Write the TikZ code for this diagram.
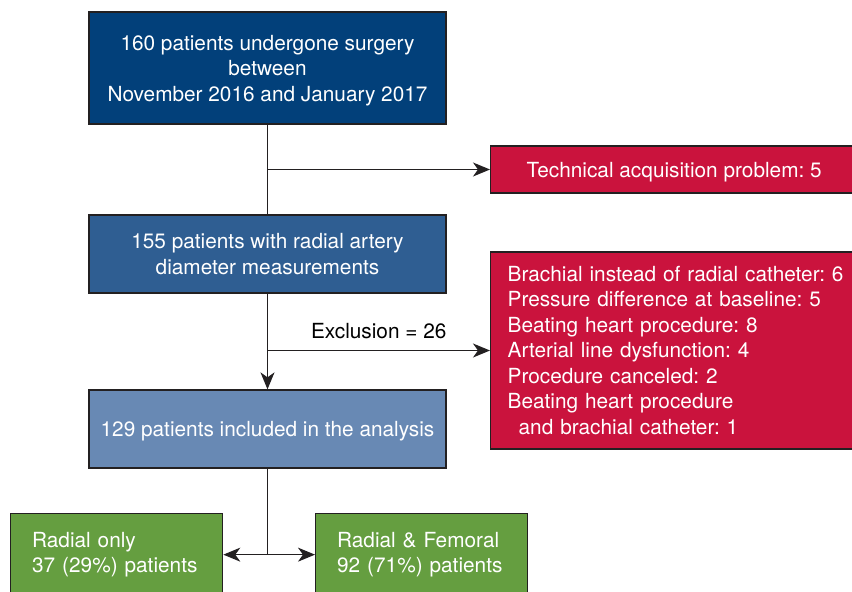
\documentclass[tikz,border=0pt]{standalone}
\usepackage{fontspec}
\setmainfont{TeX Gyre Heros}
\usetikzlibrary{arrows.meta}

\definecolor{topblue}{RGB}{2,64,122}
\definecolor{midblue}{RGB}{47,94,146}
\definecolor{lightblue}{RGB}{104,137,180}
\definecolor{exclred}{RGB}{202,19,61}
\definecolor{groupgreen}{RGB}{101,158,64}
\definecolor{linegray}{RGB}{35,32,33}

\begin{document}
\frenchspacing
\hyphenpenalty=10000
\begin{tikzpicture}[x=1pt, y=-1pt, >={Stealth[length=17pt,width=14pt,inset=5pt]},
  font=\fontsize{20.8}{25.5}\selectfont,
  box/.style={draw=linegray, line width=1.3pt, text=white, inner sep=0pt},
  flowbox/.style={box, minimum width=357pt, align=center},
  exclbox/.style={box, fill=exclred, anchor=west},
  groupbox/.style={box, fill=groupgreen, anchor=north west, minimum width=212pt,
    minimum height=82pt, text width=169pt, inner xsep=21.5pt, align=left},
  link/.style={draw=linegray, line width=1.3pt}]

\useasboundingbox (0,0) rectangle (852,592);

% ---------- Main flow ----------
\node[flowbox, fill=topblue, minimum height=112pt, text depth=0pt] (surgery) at (267.5,68)
  {160 patients undergone surgery\\between\\November 2016 and January 2017};
\node[flowbox, fill=midblue, minimum height=78pt] (measured) at (267.5,254)
  {155 patients with radial artery\\diameter measurements};
\node[flowbox, fill=lightblue, minimum height=78pt, text depth=0pt] (included) at (267.5,429)
  {129 patients included in the analysis};

% ---------- Exclusions ----------
\node[exclbox, minimum width=367pt, minimum height=47pt, text depth=0pt] (technical) at (490,169.5)
  {Technical acquisition problem: 5};
\node[exclbox, minimum height=197pt, text width=345pt, inner xsep=17pt, align=left]
  (excluded) at (490,350.5)
  {Brachial instead of radial catheter: 6\\
   Pressure difference at baseline: 5\\
   Beating heart procedure: 8\\
   Arterial line dysfunction: 4\\
   Procedure canceled: 2\\
   Beating heart procedure\\
   \hspace*{11pt}and brachial catheter: 1};

% ---------- Groups ----------
\node[groupbox] (radial) at (10,513) {Radial only\\37 (29\%) patients};
\node[groupbox] (femoral) at (315,513) {Radial \& Femoral\\92 (71\%) patients};

% ---------- Connectors ----------
\draw[link] (surgery) -- (measured);
\draw[link,->] (surgery.south |- technical.west) -- (technical.west);
\draw[link,->] (measured) -- (included);
\draw[link,->] (measured.south |- excluded.west) -- (excluded.west)
  node[midway, above, text=black, inner sep=11pt] {Exclusion = 26};

\coordinate (split) at (included.south |- radial.east);
\draw[link] (included) -- (split);
\draw[link,->] (split) -- (radial.east);
\draw[link,->] (split) -- (femoral.west);

\end{tikzpicture}
\end{document}
